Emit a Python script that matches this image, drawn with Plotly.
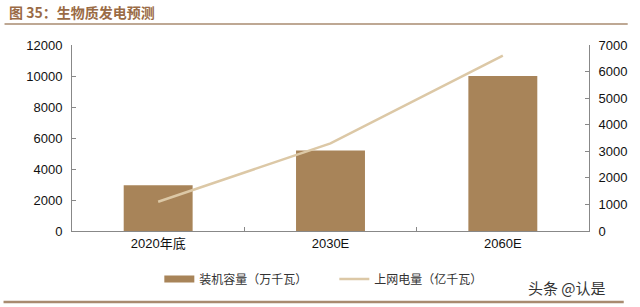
import plotly.graph_objects as go

categories = ["2020年底", "2030E", "2060E"]
capacity = [2950, 5200, 10000]      # 装机容量（万千瓦）
generation = [1100, 3300, 6600]     # 上网电量（亿千瓦）
left_ticks = [0, 2000, 4000, 6000, 8000, 10000, 12000]
right_ticks = [0, 1000, 2000, 3000, 4000, 5000, 6000, 7000]

W, H = 640, 307
L, R, T, B = 72, 47, 45, 76
pw, ph = W - L - R, H - T - B

def px(x):
    return (x - L) / pw

def py(y):
    return (H - B - y) / ph

BAR_C = "#A88459"
LINE_C = "#DCC8A6"

fig = go.Figure()
fig.add_trace(go.Bar(
    x=categories, y=capacity, name="装机容量（万千瓦）", showlegend=False,
    marker=dict(color=BAR_C, line=dict(width=0)), width=0.4,
))
# legend swatch for the bars (wide rectangle like the reference)
fig.add_trace(go.Scatter(
    x=[None], y=[None], name="装机容量（万千瓦）", mode="lines",
    line=dict(color=BAR_C, width=7),
))
fig.add_trace(go.Scatter(
    x=categories, y=generation, name="上网电量（亿千瓦）", yaxis="y2",
    mode="lines", line=dict(color=LINE_C, width=2.5),
))

axis_font = dict(family="Liberation Sans, Arial", size=13, color="#111")
fig.update_layout(
    width=W, height=H,
    margin=dict(l=L, r=R, t=T, b=B),
    paper_bgcolor="white", plot_bgcolor="white",
    showlegend=True,
    legend=dict(orientation="h", x=px(160), y=py(279), xanchor="left", yanchor="middle",
                font=dict(family="Noto Sans CJK SC", size=12, color="#333"),
                entrywidth=130, itemwidth=30, bgcolor="rgba(0,0,0,0)"),
    xaxis=dict(type="category", showline=True, linecolor="#888", linewidth=1,
               ticks="inside", ticklen=4, tickcolor="#888", tickson="boundaries",
               tickfont=dict(family="Liberation Sans, Noto Sans CJK SC", size=13, color="#111"),
               showgrid=False, zeroline=False),
    yaxis=dict(range=[0, 12000], tickvals=left_ticks, ticktext=[str(v) for v in left_ticks],
               showline=True, linecolor="#888",
               linewidth=1, ticks="inside", ticklen=4, tickcolor="#888",
               showgrid=False, zeroline=False, tickfont=axis_font, ticklabelstandoff=6),
    yaxis2=dict(range=[0, 7000], tickvals=right_ticks, ticktext=[str(v) for v in right_ticks],
                overlaying="y", side="right",
                showline=True, linecolor="#888", linewidth=1, ticks="inside", ticklen=4,
                tickcolor="#888", showgrid=False, zeroline=False, tickfont=axis_font,
                ticklabelstandoff=6),
    bargap=0.6,
)

fig.add_annotation(text="<b>图 35：生物质发电预测</b>", xref="paper", yref="paper",
                   x=px(6), y=py(12), xanchor="left", yanchor="middle", showarrow=False,
                   font=dict(family="Noto Sans CJK SC", size=14, color="#9A6B45"))
fig.add_annotation(text="头条 @认是", xref="paper", yref="paper",
                   x=px(612), y=py(287), xanchor="right", yanchor="middle", showarrow=False,
                   font=dict(family="Noto Sans CJK SC", size=15, color="#333"))
fig.add_shape(type="line", xref="paper", yref="paper", x0=px(4), x1=px(632),
              y0=py(24), y1=py(24), line=dict(color="#A88B70", width=1.5))
fig.add_shape(type="line", xref="paper", yref="paper", x0=px(3), x1=px(628),
              y0=py(302), y1=py(302), line=dict(color="#A88B70", width=2.5))

fig.write_html("out.html")
